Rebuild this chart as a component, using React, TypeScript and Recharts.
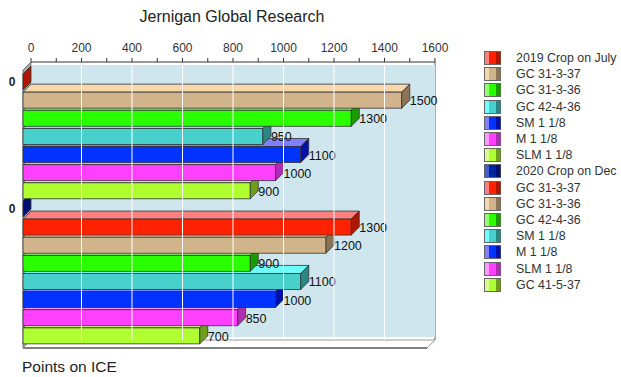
import { BarChart, Bar, XAxis, YAxis, ReferenceArea, ReferenceLine, Legend, Customized } from 'recharts';

const categories = [
  '2019 Crop on July',
  'GC 31-3-37',
  'GC 31-3-36',
  'GC 42-4-36',
  'SM 1 1/8',
  'M 1 1/8',
  'SLM 1 1/8',
  '2020 Crop on Dec',
  'GC 31-3-37',
  'GC 31-3-36',
  'GC 42-4-36',
  'SM 1 1/8',
  'M 1 1/8',
  'SLM 1 1/8',
  'GC 41-5-37',
];
const values = [0, 1500, 1300, 950, 1100, 1000, 900, 0, 1300, 1200, 900, 1100, 1000, 850, 700];
const xTicks = [0, 100, 200, 300, 400, 500, 600, 700, 800, 900, 1000, 1100, 1200, 1300, 1400, 1500, 1600];
const gridValues = [200, 400, 600, 800, 1000, 1200, 1400];

// front / top / side shades
const palette = [
  { front: '#ff2200', top: '#ff8080', side: '#b01500' },
  { front: '#d2b48c', top: '#f6d8ac', side: '#8c7556' },
  { front: '#2aff00', top: '#90ff70', side: '#1a9c00' },
  { front: '#48d1cc', top: '#70ffff', side: '#2a8884' },
  { front: '#0033ff', top: '#8080ff', side: '#0010a8' },
  { front: '#ff40ff', top: '#ff99ff', side: '#b02cb0' },
  { front: '#b0ff30', top: '#d8ff90', side: '#6e9e1c' },
  { front: '#0022a0', top: '#4060d0', side: '#001070' },
];
const colorIdx = [0, 1, 2, 3, 4, 5, 6, 7, 0, 1, 2, 3, 4, 5, 6];

const D = 8; // 3d depth
const W = 621;
const H = 377;
const PLOT = { left: 31, top: 62, right: 435, bottom: 340 };
const FONT = '"Liberation Sans", Arial, sans-serif';

// lowest row first so upper bars paint over the top faces of the ones below
const data = categories.map((name, i) => ({ row: i, name, value: values[i], c: colorIdx[i] })).reverse();

function Bar3D(props: any) {
  const { x, y, width, height, payload } = props;
  const col = palette[payload.c];
  const fx = x - D;
  const fy = y + D;
  const w = Math.max(0, width);
  const label =
    payload.value === 0 ? (
      <text x={12} y={fy + height / 2} textAnchor="middle" dominantBaseline="central" fontSize={12} fontFamily={FONT} fontWeight="bold" fill="#222">
        {payload.value}
      </text>
    ) : (
      <text x={x + w} y={fy + height / 2 + 1} textAnchor="start" dominantBaseline="central" fontSize={12.5} fontFamily={FONT} fill="#111">
        {payload.value}
      </text>
    );
  return (
    <g>
      <polygon points={`${fx},${fy} ${x},${y} ${x + w},${y} ${fx + w},${fy}`} fill={col.top} stroke="#333" strokeWidth={0.8} />
      <rect x={fx} y={fy} width={w} height={height} fill={col.front} stroke="#333" strokeWidth={0.8} />
      <polygon points={`${fx + w},${fy} ${x + w},${y} ${x + w},${y + height} ${fx + w},${fy + height}`} fill={col.side} stroke="#333" strokeWidth={0.8} />
      {label}
    </g>
  );
}

function Walls() {
  const { left, top, right, bottom } = PLOT;
  return (
    <g>
      <polygon points={`${left - D},${top + D} ${left},${top} ${left},${bottom} ${left - D},${bottom + D}`} fill="#a8a8a8" stroke="#777" />
      <polygon points={`${left - D},${bottom + D} ${left},${bottom} ${right},${bottom} ${right - D},${bottom + D}`} fill="#ffffff" stroke="#999" />
      <line x1={left - D} y1={bottom + D} x2={right - D} y2={bottom + D} stroke="#808080" strokeWidth={2} />
      <line x1={right} y1={top} x2={right} y2={bottom} stroke="#909090" strokeWidth={1.5} />
    </g>
  );
}

function AxisTick(props: any) {
  const { x, y, payload } = props;
  if (payload.value % 200 !== 0) return <g />;
  return (
    <text x={x} y={y - 4} textAnchor="middle" fontSize={12} fontFamily={FONT} fill="#333">
      {payload.value}
    </text>
  );
}

function LegendBox() {
  return (
    <div style={{ fontFamily: FONT, fontSize: 12.4, color: '#333' }}>
      {categories.map((name, i) => {
        const col = palette[colorIdx[i]];
        return (
          <div key={i} style={{ display: 'flex', alignItems: 'center', height: 16.2 }}>
            <svg width={18} height={14} style={{ marginRight: 14 }}>
              <rect x={0.5} y={0.5} width={16} height={13} fill={col.front} stroke="#666" />
              <rect x={1} y={1} width={4} height={12} fill={col.top} />
              <rect x={12} y={1} width={4.5} height={12} fill={col.side} />
            </svg>
            <span style={{ whiteSpace: 'nowrap' }}>{name}</span>
          </div>
        );
      })}
    </div>
  );
}

export default function App() {
  return (
    <div style={{ position: 'absolute', left: 0, top: 0, width: W, height: H, background: '#fff' }}>
      <div style={{ position: 'absolute', left: 0, width: 464, top: 8, textAlign: 'center', fontFamily: FONT, fontSize: 16, color: '#222' }}>
        Jernigan Global Research
      </div>
      <div style={{ position: 'absolute', left: 22, top: 358, fontFamily: FONT, fontSize: 15.5, color: '#222' }}>Points on ICE</div>
      <BarChart
        width={W}
        height={H}
        data={data}
        layout="vertical"
        margin={{ left: PLOT.left, top: PLOT.top - 30, right: W - PLOT.right, bottom: H - PLOT.bottom }}
        barSize={16}
      >
        <XAxis
          type="number"
          orientation="top"
          domain={[0, 1600]}
          ticks={xTicks}
          interval={0}
          height={30}
          tickSize={4}
          tick={<AxisTick />}
          axisLine={{ stroke: '#333' }}
          tickLine={{ stroke: '#333' }}
        />
        <YAxis type="category" dataKey="row" reversed hide width={0} padding={{ top: 3, bottom: 3 }} />
        <ReferenceArea x1={0} x2={1600} fill="#cfe6ee" fillOpacity={1} stroke="none" />
        {gridValues.map((v) => (
          <ReferenceLine key={v} x={v} stroke="#ffffff" strokeWidth={1} />
        ))}
        <Customized component={<Walls />} />
        <Legend
          layout="vertical"
          align="center"
          verticalAlign="middle"
          content={<LegendBox />}
          wrapperStyle={{ left: 484, top: 50, width: 137 }}
        />
        <Bar dataKey="value" shape={<Bar3D />} isAnimationActive={false} />
      </BarChart>
    </div>
  );
}
